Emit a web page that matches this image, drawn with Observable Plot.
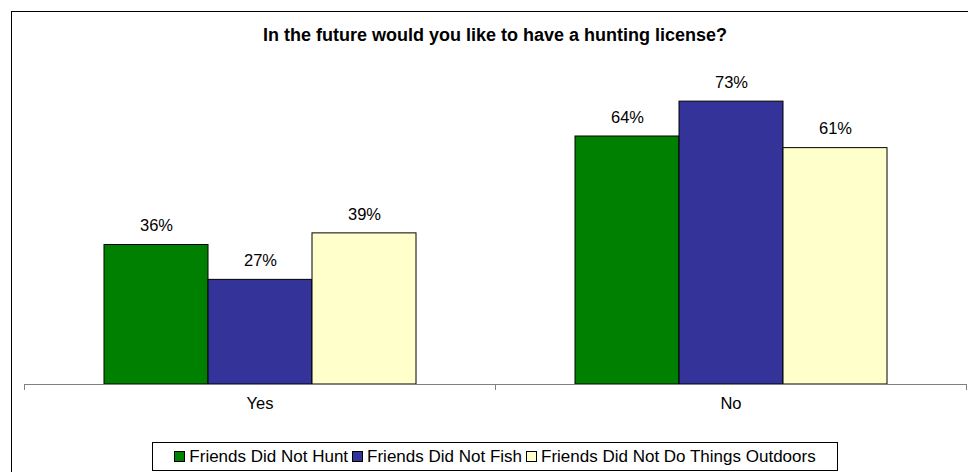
<!DOCTYPE html>
<html>
<head>
<meta charset="utf-8">
<script src="https://cdn.jsdelivr.net/npm/d3@7"></script>
<script src="https://cdn.jsdelivr.net/npm/@observablehq/plot@0.6"></script>
<style>
  html, body { margin: 0; padding: 0; background: #fff; overflow: hidden; }
  body { width: 968px; height: 472px; position: relative; font-family: "Liberation Sans", Arial, sans-serif; }
  #frame { position: absolute; left: 11px; top: 11px; width: 980px; height: 480px; border: 1px solid #000; box-sizing: border-box; }
  #title { position: absolute; left: 0; width: 990px; top: 25px; line-height: 20px; text-align: center; font-weight: bold; font-size: 18px; color: #000; }
  #chart { position: absolute; left: 0; top: 55px; }
  #legend { position: absolute; left: 152px; top: 442px; width: 686px; height: 29px; border: 1px solid #000; box-sizing: border-box; display: flex; align-items: center; justify-content: center; font-size: 17px; background: #fff; color: #000; }
  .item { display: flex; align-items: center; margin: 0 2px; white-space: nowrap; }
  .sw { width: 9px; height: 9px; border: 1px solid #000; margin-right: 4px; }
</style>
</head>
<body>
<div id="frame"></div>
<div id="title"></div>
<div id="chart"></div>
<div id="legend"></div>
<script>
const titleText = "In the future would you like to have a hunting license?";
const categories = ["Yes", "No"];
const series = ["Friends Did Not Hunt", "Friends Did Not Fish", "Friends Did Not Do Things Outdoors"];
const friendsDidNotHunt = [36, 64];
const friendsDidNotFish = [27, 73];
const friendsDidNotDoOutdoors = [39, 61];
const colors = ["#008000", "#333399", "#FFFFCC"];

const seriesValues = [friendsDidNotHunt, friendsDidNotFish, friendsDidNotDoOutdoors];
const data = [];
categories.forEach((c, ci) => series.forEach((s, si) => data.push({category: c, series: s, value: seriesValues[si][ci]})));

document.getElementById("title").textContent = titleText;

const W = 968, H = 385, mT = 19, mB = 56, mL = 24, mR = 2;
const innerH = H - mT - mB;

const chart = Plot.plot({
  width: W,
  height: H,
  marginTop: mT,
  marginBottom: mB,
  marginLeft: mL,
  marginRight: mR,
  style: {fontFamily: "'Liberation Sans', Arial, sans-serif", fontSize: "16.5px", color: "#000", background: "transparent"},
  fx: {domain: categories, padding: 0, axis: null},
  x: {domain: series, paddingInner: 0, paddingOuter: 0.743, axis: null},
  y: {domain: [0, 80], axis: null},
  color: {domain: series, range: colors},
  marks: [
    Plot.barY(data, {fx: "category", x: "series", y: "value", fill: "series", stroke: "#000", strokeWidth: 1}),
    Plot.text(data, {fx: "category", x: "series", y: "value", text: d => d.value + "%", dy: -19, fontSize: 16.5, fill: "#000"}),
    Plot.text(categories, {fx: d => d, text: d => d, frameAnchor: "bottom", dy: 24, fontSize: 16.5, fill: "#000"}),
    Plot.ruleY([0], {stroke: "#808080", strokeWidth: 1}),
    Plot.frame({anchor: "left", stroke: "#808080", insetTop: innerH, insetBottom: -5}),
    Plot.frame({anchor: "right", stroke: "#808080", insetTop: innerH, insetBottom: -5})
  ]
});
document.getElementById("chart").appendChild(chart);

const legend = document.getElementById("legend");
series.forEach((s, i) => {
  const item = document.createElement("div");
  item.className = "item";
  const sw = document.createElement("span");
  sw.className = "sw";
  sw.style.background = colors[i];
  const t = document.createElement("span");
  t.textContent = s;
  item.appendChild(sw);
  item.appendChild(t);
  legend.appendChild(item);
});
</script>
</body>
</html>
